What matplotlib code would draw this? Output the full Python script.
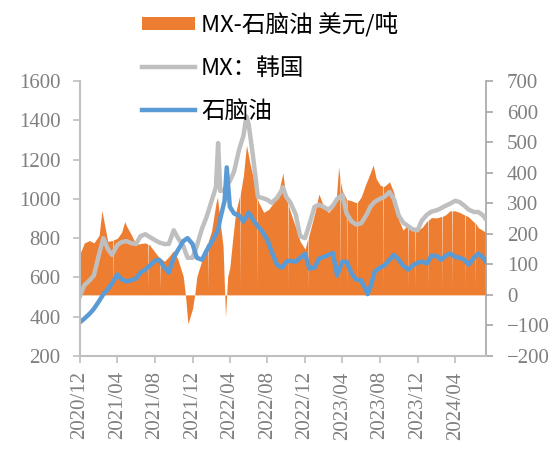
import matplotlib
matplotlib.use("Agg")
import matplotlib.pyplot as plt
from matplotlib.patches import Patch
from matplotlib.lines import Line2D
import pandas as pd

# ---------------- data ----------------
line_dates = [
    "2020-12-01", "2020-12-15", "2021-01-01", "2021-01-15", "2021-02-01", "2021-02-15",
    "2021-03-01", "2021-03-15", "2021-04-01", "2021-04-15", "2021-05-01", "2021-05-15",
    "2021-06-01", "2021-06-15", "2021-07-01", "2021-07-15", "2021-08-01", "2021-08-15",
    "2021-09-01", "2021-09-15", "2021-10-01", "2021-10-15", "2021-11-01", "2021-11-15",
    "2021-12-01", "2021-12-15", "2022-01-01", "2022-01-15", "2022-02-01", "2022-02-15",
    "2022-02-22", "2022-03-01", "2022-03-15", "2022-03-22", "2022-04-01", "2022-04-15",
    "2022-05-01", "2022-05-15", "2022-05-25", "2022-06-01", "2022-06-15", "2022-07-01",
    "2022-07-15", "2022-08-01", "2022-08-15", "2022-09-01", "2022-09-15", "2022-09-20",
    "2022-10-01", "2022-10-15", "2022-11-01", "2022-11-15", "2022-12-01", "2022-12-15",
    "2023-01-01", "2023-01-15", "2023-02-01", "2023-02-15", "2023-03-01", "2023-03-15",
    "2023-04-01", "2023-04-15", "2023-05-01", "2023-05-15", "2023-06-01", "2023-06-15",
    "2023-06-22", "2023-07-01", "2023-07-15", "2023-08-01", "2023-08-15", "2023-09-01",
    "2023-09-15", "2023-10-01", "2023-10-15", "2023-11-01", "2023-11-15", "2023-12-01",
    "2023-12-15", "2024-01-01", "2024-01-15", "2024-02-01", "2024-02-15", "2024-03-01",
    "2024-03-15", "2024-04-01", "2024-04-15", "2024-05-01", "2024-05-15", "2024-06-01",
    "2024-06-15", "2024-07-01", "2024-07-10",
]
mx_korea = [
    505, 560, 585, 610, 720, 800,
    745, 715, 765, 780, 785, 775,
    770, 810, 820, 806, 790, 778,
    770, 770, 840, 800, 760, 700,
    700, 760, 850, 905, 990, 1060,
    1284, 1040, 1045, 1070, 1090, 1140,
    1250, 1320, 1420, 1380, 1220, 1010,
    1005, 995, 980, 1005, 1040, 1060,
    1010, 980, 920, 810, 800, 870,
    960, 970, 958, 945, 965, 1000,
    1020, 925, 885, 870, 875, 910,
    930, 960, 985, 1000, 1010, 1035,
    1000, 915, 880, 860, 845, 840,
    890, 920, 935, 942, 952, 965,
    975, 990, 984, 965, 945, 933,
    933, 915, 895,
]
naphtha = [
    372, 390, 415, 440, 480, 515,
    540, 570, 615, 590, 580, 585,
    595, 625, 640, 660, 685, 690,
    650, 625, 700, 740, 785, 800,
    770, 700, 690, 735, 780, 820,
    841, 900, 990, 1160, 960, 925,
    915, 885, 910, 930, 895, 860,
    835, 790, 730, 665, 650, 655,
    680, 685, 680, 700, 720, 645,
    650, 695, 705, 715, 725, 610,
    680, 680, 620, 590, 585, 540,
    515, 550, 630, 650, 660, 690,
    715, 690, 660, 640, 660, 675,
    680, 672, 710, 710, 690, 710,
    722, 705, 700, 690, 665, 700,
    722, 700, 680,
]

spread_dates = [
    "2020-12-01", "2020-12-15", "2021-01-01", "2021-01-15", "2021-02-01", "2021-02-10",
    "2021-02-15", "2021-03-01", "2021-03-15", "2021-03-17", "2021-03-18", "2021-03-19",
    "2021-04-01", "2021-04-15", "2021-04-25", "2021-05-01", "2021-05-15", "2021-06-01",
    "2021-06-15", "2021-07-01", "2021-07-09", "2021-07-10", "2021-07-11", "2021-07-15",
    "2021-08-01", "2021-08-15", "2021-08-17", "2021-08-18", "2021-08-19", "2021-09-01",
    "2021-09-15", "2021-10-01", "2021-10-15", "2021-11-01", "2021-11-08", "2021-11-16",
    "2021-12-01", "2021-12-08", "2021-12-15", "2022-01-01", "2022-01-15", "2022-01-19",
    "2022-01-20", "2022-01-21", "2022-02-01", "2022-02-15", "2022-02-20", "2022-03-01",
    "2022-03-10", "2022-03-18", "2022-03-25", "2022-04-01", "2022-04-10", "2022-04-20",
    "2022-05-03", "2022-05-04", "2022-05-05", "2022-05-15", "2022-05-25", "2022-06-05",
    "2022-06-20", "2022-06-27", "2022-06-28", "2022-06-29", "2022-07-05", "2022-07-20",
    "2022-08-05", "2022-08-20", "2022-09-05", "2022-09-20", "2022-10-01", "2022-10-06",
    "2022-10-07", "2022-10-08", "2022-10-15", "2022-11-01", "2022-11-15", "2022-12-01",
    "2022-12-10", "2022-12-11", "2022-12-12", "2022-12-15", "2023-01-01", "2023-01-15",
    "2023-02-01", "2023-02-15", "2023-03-01", "2023-03-12", "2023-03-20", "2023-03-24",
    "2023-03-25", "2023-03-26", "2023-04-01", "2023-04-14", "2023-04-15", "2023-04-16",
    "2023-05-01", "2023-05-15", "2023-05-18", "2023-05-19", "2023-05-20", "2023-06-01",
    "2023-06-15", "2023-07-01", "2023-07-10", "2023-07-20", "2023-08-01", "2023-08-10",
    "2023-08-11", "2023-08-12", "2023-08-15", "2023-09-01", "2023-09-15", "2023-10-01",
    "2023-10-15", "2023-10-30", "2023-10-31", "2023-11-01", "2023-11-15", "2023-11-22",
    "2023-11-23", "2023-11-24", "2023-12-01", "2023-12-15", "2024-01-01", "2024-01-03",
    "2024-01-04", "2024-01-05", "2024-01-15", "2024-02-01", "2024-02-15", "2024-02-18",
    "2024-02-19", "2024-02-20", "2024-03-01", "2024-03-15", "2024-03-21", "2024-03-22",
    "2024-03-23", "2024-04-01", "2024-04-15", "2024-05-01", "2024-05-02", "2024-05-03",
    "2024-05-04", "2024-05-15", "2024-06-01", "2024-06-04", "2024-06-05", "2024-06-06",
    "2024-06-15", "2024-07-01", "2024-07-10",
]
spread = [
    135, 170, 178, 170, 195, 275,
    250, 175, 178, 178, 15, 180,
    185, 205, 240, 225, 200, 165,
    168, 170, 166, 15, 165, 163,
    140, 122, 122, 15, 120, 110,
    125, 145, 115, 60, 0, -95,
    -45, 0, 60, 115, 165, 170,
    15, 175, 210, 300, 320, 235,
    160, -72, 60, 90, 180, 270,
    325, 20, 330, 390, 490, 432,
    366, 320, 20, 315, 300, 270,
    280, 300, 330, 399, 310, 300,
    20, 295, 270, 220, 175, 150,
    185, 20, 190, 200, 265, 330,
    285, 270, 285, 310, 419, 380,
    20, 370, 340, 315, 20, 312,
    308, 302, 302, 20, 303, 320,
    360, 400, 425, 380, 360, 355,
    20, 355, 355, 370, 335, 245,
    212, 230, 20, 232, 222, 220,
    20, 218, 212, 220, 242, 243,
    20, 244, 253, 252, 256, 256,
    20, 257, 262, 275, 275, 20,
    275, 275, 270, 262, 262, 20,
    261, 255, 238, 236, 20, 235,
    220, 210, 205,
]

tick_months = ["2020-12-01", "2021-04-01", "2021-08-01", "2021-12-01", "2022-04-01",
               "2022-08-01", "2022-12-01", "2023-04-01", "2023-08-01", "2023-12-01",
               "2024-04-01"]
tick_labels = ["2020/12", "2021/04", "2021/08", "2021/12", "2022/04", "2022/08",
               "2022/12", "2023/04", "2023/08", "2023/12", "2024/04"]

labels = ["MX-石脑油 美元/吨", "MX：韩国", "石脑油"]

# ---------------- style ----------------
ORANGE = "#ED7D31"
GRAY = "#BFBFBF"
BLUE = "#5B9BD5"
TXT = "#7F7F7F"
SERIF = "Liberation Serif"

W, H = 555, 449
fig = plt.figure(figsize=(W / 100, H / 100), dpi=100)
ax = fig.add_axes([80 / W, 1 - 356 / H, (486 - 80) / W, (356 - 81) / H])
ax2 = ax.twinx()
ax.set_zorder(ax2.get_zorder() + 1)
ax.patch.set_visible(False)

ld = pd.to_datetime(line_dates)
sd = pd.to_datetime(spread_dates)

ax2.fill_between(sd, 0, spread, color=ORANGE, linewidth=0)
ax.plot(ld, mx_korea, color=GRAY, lw=3.2, solid_joinstyle="round")
ax.plot(ld, naphtha, color=BLUE, lw=3.2, solid_joinstyle="round")

ax.set_xlim(pd.Timestamp("2020-12-01"), pd.Timestamp("2024-07-10"))
ax.set_ylim(200, 1600)
ax2.set_ylim(-200, 700)
ax.set_yticks(range(200, 1601, 200))
ax2.set_yticks(range(-200, 701, 100))
ax.set_xticks(pd.to_datetime(tick_months))
ax.set_xticklabels(tick_labels, rotation=90, va="top", ha="center")

for a in (ax, ax2):
    for s in a.spines.values():
        s.set_visible(False)
ax.spines["left"].set_visible(True)
ax.spines["left"].set_color(GRAY)
ax.spines["left"].set_linewidth(1.5)
ax.spines["bottom"].set_visible(True)
ax.spines["bottom"].set_color(GRAY)
ax.spines["bottom"].set_linewidth(1.5)
ax2.spines["right"].set_visible(True)
ax2.spines["right"].set_color("#A6A6A6")
ax2.spines["right"].set_linewidth(1.2)

ax.tick_params(axis="y", direction="out", length=5, width=1.2, color=GRAY,
               labelcolor=TXT, labelsize=15, pad=9)
ax.tick_params(axis="x", direction="out", length=5, width=1.2, color=GRAY,
               labelcolor=TXT, labelsize=15, pad=6)
ax2.tick_params(axis="y", direction="out", length=5, width=1.2, color="#A6A6A6",
                labelcolor=TXT, labelsize=15, pad=10)
for lab in ax.get_xticklabels() + ax.get_yticklabels() + ax2.get_yticklabels():
    lab.set_fontfamily(SERIF)

handles = [Patch(facecolor=ORANGE, edgecolor="none"),
           Line2D([], [], color=GRAY, lw=3.2),
           Line2D([], [], color=BLUE, lw=3.2)]
leg = fig.legend(handles, labels, loc="upper left",
                 bbox_to_anchor=(142 / W, 1 - 12 / H), frameon=False,
                 prop={"family": ["Noto Sans CJK SC", "DejaVu Sans"], "size": 17},
                 handlelength=2.25, handleheight=0.45, handletextpad=0.25,
                 labelspacing=0.85, borderpad=0, borderaxespad=0)
for t in leg.get_texts():
    t.set_color("#000000")

fig.savefig("out.png", dpi=100)
